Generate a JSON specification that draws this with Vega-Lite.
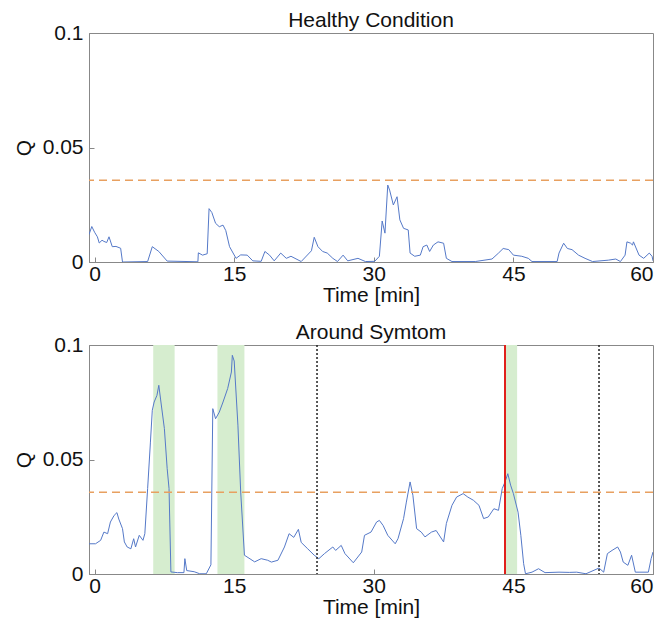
{
  "$schema": "https://vega.github.io/schema/vega-lite/v6.json",
  "background": "white",
  "padding": {"left": 12, "top": 9, "right": 4, "bottom": 0},
  "config": {
    "font": "Liberation Sans",
    "view": {"stroke": "#888888", "strokeWidth": 1},
    "axis": {"grid": false, "domainColor": "#888888", "tickColor": "#888888", "tickSize": -5, "labelFontSize": 21, "titleFontSize": 21, "labelColor": "#111", "titleColor": "#111", "titleFontWeight": "normal", "labelFont": "Liberation Sans", "titleFont": "Liberation Sans"},
    "title": {"fontSize": 21, "fontWeight": "normal", "font": "Liberation Sans", "color": "#111", "offset": -9},
    "concat": {"spacing": 15}
  },
  "datasets": {
    "healthy": [
      {"t": -0.6, "q": 0.012}, {"t": -0.3, "q": 0.0155}, {"t": 0.0, "q": 0.013}, {"t": 0.3, "q": 0.011}, {"t": 0.5, "q": 0.0083}, {"t": 0.8, "q": 0.0095}, {"t": 1.0, "q": 0.009}, {"t": 1.3, "q": 0.0085}, {"t": 1.55, "q": 0.011}, {"t": 1.9, "q": 0.0067}, {"t": 2.3, "q": 0.0068}, {"t": 2.8, "q": 0.006}, {"t": 3.0, "q": 0.0}, {"t": 5.7, "q": 0.0002}, {"t": 6.2, "q": 0.0067}, {"t": 6.9, "q": 0.0046}, {"t": 7.8, "q": 0.0004}, {"t": 11.1, "q": 0.0001}, {"t": 11.15, "q": 0.004}, {"t": 11.6, "q": 0.003}, {"t": 12.1, "q": 0.0036}, {"t": 12.3, "q": 0.0233}, {"t": 12.6, "q": 0.0216}, {"t": 13.0, "q": 0.0169}, {"t": 13.4, "q": 0.0154}, {"t": 13.8, "q": 0.0161}, {"t": 14.1, "q": 0.0137}, {"t": 14.5, "q": 0.0067}, {"t": 15.2, "q": 0.0016}, {"t": 15.7, "q": 0.0031}, {"t": 16.4, "q": 0.003}, {"t": 17.0, "q": 0.0005}, {"t": 17.9, "q": 0.0003}, {"t": 18.3, "q": 0.0046}, {"t": 18.8, "q": 0.003}, {"t": 19.3, "q": 0.0005}, {"t": 20.0, "q": 0.0039}, {"t": 20.6, "q": 0.0016}, {"t": 21.1, "q": 0.0025}, {"t": 22.2, "q": 0.0002}, {"t": 23.3, "q": 0.0049}, {"t": 23.6, "q": 0.0108}, {"t": 24.0, "q": 0.0067}, {"t": 24.5, "q": 0.0046}, {"t": 25.0, "q": 0.0039}, {"t": 25.6, "q": 0.0016}, {"t": 26.1, "q": 0.0002}, {"t": 26.7, "q": 0.003}, {"t": 27.2, "q": 0.0005}, {"t": 28.3, "q": 0.0016}, {"t": 29.1, "q": 0.0002}, {"t": 30.1, "q": 0.0003}, {"t": 30.6, "q": 0.0025}, {"t": 30.9, "q": 0.0179}, {"t": 31.2, "q": 0.0126}, {"t": 31.5, "q": 0.0336}, {"t": 31.7, "q": 0.0314}, {"t": 32.1, "q": 0.0249}, {"t": 32.5, "q": 0.0285}, {"t": 32.8, "q": 0.0184}, {"t": 33.2, "q": 0.0147}, {"t": 33.7, "q": 0.014}, {"t": 33.9, "q": 0.0039}, {"t": 34.4, "q": 0.0025}, {"t": 35.0, "q": 0.003}, {"t": 35.3, "q": 0.0067}, {"t": 35.7, "q": 0.0074}, {"t": 36.0, "q": 0.0046}, {"t": 36.4, "q": 0.0074}, {"t": 36.9, "q": 0.0088}, {"t": 37.5, "q": 0.0082}, {"t": 37.8, "q": 0.0016}, {"t": 38.4, "q": 0.0002}, {"t": 40.9, "q": 0.0002}, {"t": 42.7, "q": 0.0013}, {"t": 43.4, "q": 0.0039}, {"t": 43.9, "q": 0.0059}, {"t": 44.5, "q": 0.0054}, {"t": 45.0, "q": 0.003}, {"t": 45.9, "q": 0.0025}, {"t": 46.6, "q": 0.0016}, {"t": 47.0, "q": 0.0002}, {"t": 49.7, "q": 0.0002}, {"t": 49.9, "q": 0.0039}, {"t": 50.4, "q": 0.0082}, {"t": 50.8, "q": 0.0059}, {"t": 51.3, "q": 0.0054}, {"t": 52.0, "q": 0.003}, {"t": 52.7, "q": 0.0016}, {"t": 53.5, "q": 0.0002}, {"t": 55.2, "q": 0.0008}, {"t": 56.0, "q": 0.0013}, {"t": 56.5, "q": 0.0002}, {"t": 57.0, "q": 0.003}, {"t": 57.2, "q": 0.0088}, {"t": 57.6, "q": 0.0082}, {"t": 57.8, "q": 0.0074}, {"t": 57.9, "q": 0.0088}, {"t": 58.5, "q": 0.003}, {"t": 59.0, "q": 0.0016}, {"t": 59.6, "q": 0.0039}, {"t": 59.9, "q": 0.0025}, {"t": 60.0, "q": 0.0005}
    ],
    "symptom": [
      {"t": -0.6, "q": 0.0132}, {"t": 0.1, "q": 0.0132}, {"t": 0.65, "q": 0.0147}, {"t": 1.0, "q": 0.0183}, {"t": 1.4, "q": 0.0176}, {"t": 1.7, "q": 0.0227}, {"t": 2.1, "q": 0.0256}, {"t": 2.4, "q": 0.0268}, {"t": 2.6, "q": 0.024}, {"t": 3.0, "q": 0.0198}, {"t": 3.2, "q": 0.014}, {"t": 3.5, "q": 0.0118}, {"t": 3.9, "q": 0.011}, {"t": 4.2, "q": 0.0154}, {"t": 4.4, "q": 0.0118}, {"t": 4.8, "q": 0.0169}, {"t": 5.2, "q": 0.0147}, {"t": 5.4, "q": 0.0176}, {"t": 5.7, "q": 0.0373}, {"t": 6.0, "q": 0.0576}, {"t": 6.2, "q": 0.0715}, {"t": 6.4, "q": 0.0751}, {"t": 6.7, "q": 0.078}, {"t": 6.9, "q": 0.0824}, {"t": 7.1, "q": 0.076}, {"t": 7.5, "q": 0.0635}, {"t": 7.8, "q": 0.046}, {"t": 8.0, "q": 0.0373}, {"t": 8.2, "q": 0.0009}, {"t": 8.9, "q": 0.0006}, {"t": 9.6, "q": 0.0006}, {"t": 9.7, "q": 0.0067}, {"t": 9.9, "q": 0.0015}, {"t": 10.7, "q": 0.001}, {"t": 11.3, "q": 0.0001}, {"t": 12.0, "q": 0.0001}, {"t": 12.5, "q": 0.004}, {"t": 12.7, "q": 0.0722}, {"t": 13.0, "q": 0.0678}, {"t": 13.4, "q": 0.0707}, {"t": 13.8, "q": 0.0751}, {"t": 14.3, "q": 0.081}, {"t": 14.7, "q": 0.0882}, {"t": 14.8, "q": 0.0955}, {"t": 15.0, "q": 0.093}, {"t": 15.4, "q": 0.065}, {"t": 15.7, "q": 0.0358}, {"t": 16.1, "q": 0.0082}, {"t": 17.2, "q": 0.0053}, {"t": 17.9, "q": 0.0067}, {"t": 18.6, "q": 0.006}, {"t": 19.0, "q": 0.0052}, {"t": 19.7, "q": 0.006}, {"t": 20.4, "q": 0.0118}, {"t": 20.9, "q": 0.0176}, {"t": 21.4, "q": 0.016}, {"t": 21.9, "q": 0.0195}, {"t": 22.2, "q": 0.0138}, {"t": 22.9, "q": 0.011}, {"t": 23.6, "q": 0.0082}, {"t": 24.1, "q": 0.0067}, {"t": 24.7, "q": 0.0089}, {"t": 25.6, "q": 0.0118}, {"t": 25.9, "q": 0.0103}, {"t": 26.5, "q": 0.0125}, {"t": 26.9, "q": 0.0089}, {"t": 27.8, "q": 0.0049}, {"t": 28.7, "q": 0.0096}, {"t": 29.0, "q": 0.0169}, {"t": 29.7, "q": 0.0183}, {"t": 30.3, "q": 0.0227}, {"t": 30.6, "q": 0.0234}, {"t": 31.0, "q": 0.0212}, {"t": 31.5, "q": 0.0169}, {"t": 32.3, "q": 0.0132}, {"t": 32.6, "q": 0.0154}, {"t": 33.2, "q": 0.0242}, {"t": 33.5, "q": 0.0314}, {"t": 33.9, "q": 0.0402}, {"t": 34.2, "q": 0.0344}, {"t": 34.6, "q": 0.0198}, {"t": 35.1, "q": 0.0183}, {"t": 35.5, "q": 0.0162}, {"t": 36.2, "q": 0.0183}, {"t": 36.7, "q": 0.019}, {"t": 37.5, "q": 0.014}, {"t": 37.8, "q": 0.0221}, {"t": 38.4, "q": 0.03}, {"t": 38.9, "q": 0.0336}, {"t": 39.6, "q": 0.0351}, {"t": 40.1, "q": 0.0336}, {"t": 40.7, "q": 0.0322}, {"t": 41.3, "q": 0.03}, {"t": 41.8, "q": 0.0242}, {"t": 42.3, "q": 0.0249}, {"t": 42.9, "q": 0.0285}, {"t": 43.4, "q": 0.0278}, {"t": 43.8, "q": 0.0373}, {"t": 44.1, "q": 0.0402}, {"t": 44.4, "q": 0.0438}, {"t": 44.7, "q": 0.0388}, {"t": 45.0, "q": 0.0351}, {"t": 45.5, "q": 0.027}, {"t": 45.8, "q": 0.0169}, {"t": 46.1, "q": 0.0045}, {"t": 46.3, "q": 0.0001}, {"t": 47.0, "q": 0.0008}, {"t": 47.7, "q": 0.0023}, {"t": 48.4, "q": 0.0006}, {"t": 49.9, "q": 0.0008}, {"t": 51.0, "q": 0.0007}, {"t": 51.8, "q": 0.0008}, {"t": 52.8, "q": 0.0001}, {"t": 54.2, "q": 0.0026}, {"t": 54.7, "q": 0.0008}, {"t": 55.1, "q": 0.0089}, {"t": 55.6, "q": 0.0103}, {"t": 56.2, "q": 0.0118}, {"t": 56.5, "q": 0.0096}, {"t": 56.8, "q": 0.0052}, {"t": 57.3, "q": 0.0038}, {"t": 57.7, "q": 0.0082}, {"t": 58.1, "q": 0.0008}, {"t": 58.6, "q": 0.0008}, {"t": 59.5, "q": 0.0008}, {"t": 59.8, "q": 0.0067}, {"t": 60.0, "q": 0.0096}
    ],
    "bands": [
      {"start": 6.3, "end": 8.6}, {"start": 13.2, "end": 16.1}, {"start": 44.2, "end": 45.4}
    ],
    "dotted": [{"t": 23.9}, {"t": 54.2}],
    "red": [{"t": 44.1}],
    "threshold": [{"q": 0.0357}]
  },
  "vconcat": [
    {
      "width": 564,
      "height": 229,
      "title": "Healthy Condition",
      "layer": [
        {
          "data": {"name": "healthy"},
          "mark": {"type": "line", "color": "#5579c8", "strokeWidth": 1, "clip": true},
          "encoding": {
            "x": {"field": "t", "type": "quantitative", "scale": {"domain": [-0.6, 60], "nice": false, "zero": false}, "axis": {"values": [0, 15, 30, 45, 60], "title": "Time [min]", "labelPadding": 6, "titlePadding": 0}},
            "y": {"field": "q", "type": "quantitative", "scale": {"domain": [0, 0.1], "nice": false}, "axis": {"values": [0, 0.05, 0.1], "format": "~g", "title": "Q", "labelPadding": 11, "titlePadding": 8}}
          }
        },
        {
          "data": {"name": "threshold"},
          "mark": {"type": "rule", "color": "#e8a060", "strokeWidth": 1.5, "strokeDash": [8, 5]},
          "encoding": {"y": {"field": "q", "type": "quantitative"}}
        }
      ]
    },
    {
      "width": 564,
      "height": 229,
      "title": "Around Symtom",
      "layer": [
        {
          "data": {"name": "bands"},
          "mark": {"type": "rect", "color": "#d6edcf", "opacity": 1},
          "encoding": {
            "x": {"field": "start", "type": "quantitative", "scale": {"domain": [-0.6, 60], "nice": false, "zero": false}, "axis": {"values": [0, 15, 30, 45, 60], "title": "Time [min]", "labelPadding": 6, "titlePadding": 0}},
            "x2": {"field": "end"},
            "y": {"datum": 0, "type": "quantitative", "scale": {"domain": [0, 0.1], "nice": false}, "axis": {"values": [0, 0.05, 0.1], "format": "~g", "title": "Q", "labelPadding": 11, "titlePadding": 8}},
            "y2": {"datum": 0.1}
          }
        },
        {
          "data": {"name": "symptom"},
          "mark": {"type": "line", "color": "#5579c8", "strokeWidth": 1, "clip": true},
          "encoding": {
            "x": {"field": "t", "type": "quantitative"},
            "y": {"field": "q", "type": "quantitative"}
          }
        },
        {
          "data": {"name": "threshold"},
          "mark": {"type": "rule", "color": "#e8a060", "strokeWidth": 1.5, "strokeDash": [8, 5]},
          "encoding": {"y": {"field": "q", "type": "quantitative"}}
        },
        {
          "data": {"name": "dotted"},
          "mark": {"type": "rule", "color": "#222222", "strokeWidth": 1.5, "strokeDash": [2, 2]},
          "encoding": {"x": {"field": "t", "type": "quantitative"}}
        },
        {
          "data": {"name": "red"},
          "mark": {"type": "rule", "color": "#e0201b", "strokeWidth": 2},
          "encoding": {"x": {"field": "t", "type": "quantitative"}}
        }
      ]
    }
  ]
}
